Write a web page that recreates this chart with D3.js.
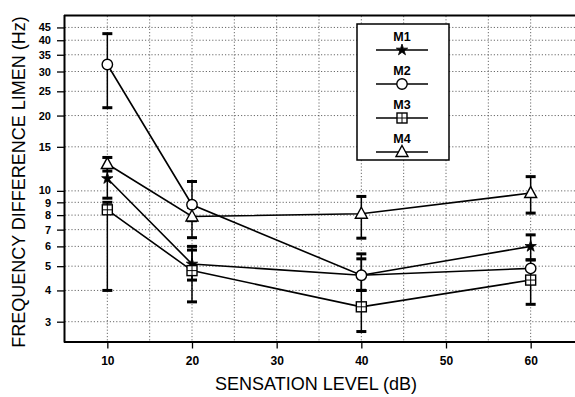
<!DOCTYPE html>
<html><head><meta charset="utf-8">
<script src="https://cdn.jsdelivr.net/npm/d3@7"></script>
<style>
body{margin:0;background:#fff;}
svg{display:block;font-family:"Liberation Sans",Arial,Helvetica,sans-serif;}
</style></head>
<body><svg id="c" width="575" height="397"></svg>
<script>
const levels = [10, 20, 40, 60];
const seriesNames = ["M1", "M2", "M3", "M4"];
const m1 = [11.2, 5.1, 4.6, 6.0];
const m2 = [32.0, 8.8, 4.6, 4.9];
const m3 = [8.4, 4.8, 3.44, 4.4];
const m4 = [12.8, 7.9, 8.1, 9.8];
const m1Lo = [9.35, 4.4, 4.0, 5.3];
const m1Hi = [12.4, 6.0, 5.6, 6.67];
const m2Lo = [21.5, 7.6, 4.0, 4.5];
const m2Hi = [42.5, 10.9, 5.35, 5.3];
const m3Lo = [4.0, 3.6, 2.74, 3.52];
const m3Hi = [9.0, 5.8, 4.0, 4.9];
const m4Lo = [12.0, 6.5, 6.47, 8.15];
const m4Hi = [13.6, 8.6, 9.5, 11.4];
const yTicks = [3, 4, 5, 6, 7, 8, 9, 10, 15, 20, 25, 30, 35, 40, 45];
const xTicks = [10, 20, 30, 40, 50, 60];
const xGrid = [10, 15, 20, 25, 30, 35, 40, 45, 50, 55, 60];

const svg = d3.select("#c");
const x = d3.scaleLinear().domain([5, 65]).range([65, 573]);
const y = d3.scaleLog().domain([2.5, 50]).range([341.5, 16]);

// grid
const g = svg.append("g");
g.selectAll(".hg").data(yTicks).enter().append("line")
  .attr("x1", 65).attr("x2", 575).attr("y1", d => y(d)).attr("y2", d => y(d))
  .attr("stroke", "#444").attr("stroke-width", 0.8).attr("stroke-dasharray", "1.2,2");
g.selectAll(".vg").data(xGrid).enter().append("line")
  .attr("y1", 16).attr("y2", 341.5).attr("x1", d => x(d)).attr("x2", d => x(d))
  .attr("stroke", "#444").attr("stroke-width", 0.8).attr("stroke-dasharray", "1.2,2");

// axes
const yAxis = d3.axisLeft(y).tickValues(yTicks).tickFormat(d3.format("d")).tickSize(8).tickPadding(6);
const ya = svg.append("g").attr("transform", "translate(65,0)").call(yAxis);
const xAxis = d3.axisBottom(x).tickValues(xTicks).tickFormat(d3.format("d")).tickSize(7).tickPadding(8);
const xa = svg.append("g").attr("transform", "translate(0,341.5)").call(xAxis);
[ya, xa].forEach(a => {
  a.select(".domain").remove();
  a.selectAll(".tick line").attr("stroke", "#000").attr("stroke-width", 1.3);
  a.selectAll(".tick text").attr("fill", "#000").attr("font-size", 12).attr("font-weight", "bold");
});
ya.selectAll(".tick text").attr("font-size", 11)
  .attr("dy", d => d === 10 ? "0.2em" : (d === 9 ? "0.42em" : "0.32em"));
// frame
svg.append("line").attr("x1", 64.5).attr("x2", 64.5).attr("y1", 15).attr("y2", 342.5).attr("stroke", "#000").attr("stroke-width", 2);
svg.append("line").attr("x1", 64).attr("x2", 575).attr("y1", 15.5).attr("y2", 15.5).attr("stroke", "#000").attr("stroke-width", 1.8);
svg.append("line").attr("x1", 64).attr("x2", 575).attr("y1", 342).attr("y2", 342).attr("stroke", "#000").attr("stroke-width", 2);

// titles
svg.append("text").attr("x", 316).attr("y", 390).attr("text-anchor", "middle")
  .attr("font-size", 18).attr("fill", "#000").text("SENSATION LEVEL (dB)");
svg.append("text").attr("transform", "translate(25,182) rotate(-90)").attr("text-anchor", "middle")
  .attr("font-size", 18).attr("fill", "#000").text("FREQUENCY DIFFERENCE LIMEN (Hz)");

const series = [
  {name: seriesNames[0], v: m1, lo: m1Lo, hi: m1Hi, sym: "star"},
  {name: seriesNames[1], v: m2, lo: m2Lo, hi: m2Hi, sym: "circle"},
  {name: seriesNames[2], v: m3, lo: m3Lo, hi: m3Hi, sym: "square"},
  {name: seriesNames[3], v: m4, lo: m4Lo, hi: m4Hi, sym: "triangle"}
];

function drawSym(sel, type) {
  if (type === "star") {
    sel.append("path").attr("d", d3.symbol().type(d3.symbolStar).size(40)()).attr("fill", "#000").attr("stroke", "#000").attr("stroke-width", 0.8);
  } else if (type === "circle") {
    sel.append("circle").attr("r", 5.2).attr("fill", "#fff").attr("stroke", "#000").attr("stroke-width", 1.4);
  } else if (type === "square") {
    sel.append("rect").attr("x", -5).attr("y", -5).attr("width", 10).attr("height", 10).attr("fill", "#fff").attr("stroke", "#000").attr("stroke-width", 1.4);
    sel.append("line").attr("x1", -5).attr("x2", 5).attr("y1", 0).attr("y2", 0).attr("stroke", "#000").attr("stroke-width", 1);
    sel.append("line").attr("x1", 0).attr("x2", 0).attr("y1", -5).attr("y2", 5).attr("stroke", "#000").attr("stroke-width", 1);
  } else {
    sel.append("path").attr("d", "M0,-6.5L6,4.5L-6,4.5Z").attr("fill", "#fff").attr("stroke", "#000").attr("stroke-width", 1.4);
  }
}

// error bars
series.forEach(s => {
  const eg = svg.append("g");
  levels.forEach((lv, i) => {
    eg.append("line").attr("x1", x(lv)).attr("x2", x(lv)).attr("y1", y(s.lo[i])).attr("y2", y(s.hi[i]))
      .attr("stroke", "#000").attr("stroke-width", 1.5);
    [s.lo[i], s.hi[i]].forEach(c => {
      eg.append("line").attr("x1", x(lv) - 5).attr("x2", x(lv) + 5).attr("y1", y(c)).attr("y2", y(c))
        .attr("stroke", "#000").attr("stroke-width", 3);
    });
  });
});

// lines
const line = d3.line().x((d, i) => x(levels[i])).y(d => y(d));
series.forEach(s => {
  svg.append("path").attr("d", line(s.v)).attr("fill", "none").attr("stroke", "#000").attr("stroke-width", 1.6);
});
// markers
series.forEach(s => {
  s.v.forEach((d, i) => {
    const mg = svg.append("g").attr("transform", `translate(${x(levels[i])},${y(d)})`);
    drawSym(mg, s.sym);
  });
});

// legend
const lg = svg.append("g");
lg.append("rect").attr("x", 357).attr("y", 24).attr("width", 92).attr("height", 136)
  .attr("fill", "#fff").attr("stroke", "#000").attr("stroke-width", 1.5);
const legY = d3.scalePoint().domain(seriesNames).range([0, 3]);
series.forEach(s => {
  const yy = 37 + legY(s.name) * 34;
  lg.append("text").attr("x", 402).attr("y", yy + 4).attr("text-anchor", "middle")
    .attr("font-size", 12.5).attr("font-weight", "bold").attr("fill", "#000").text(s.name);
  lg.append("line").attr("x1", 376).attr("x2", 428).attr("y1", yy + 13).attr("y2", yy + 13)
    .attr("stroke", "#000").attr("stroke-width", 1.5);
  const mg = lg.append("g").attr("transform", `translate(402,${yy + 13})`);
  drawSym(mg, s.sym);
});
</script></body></html>
